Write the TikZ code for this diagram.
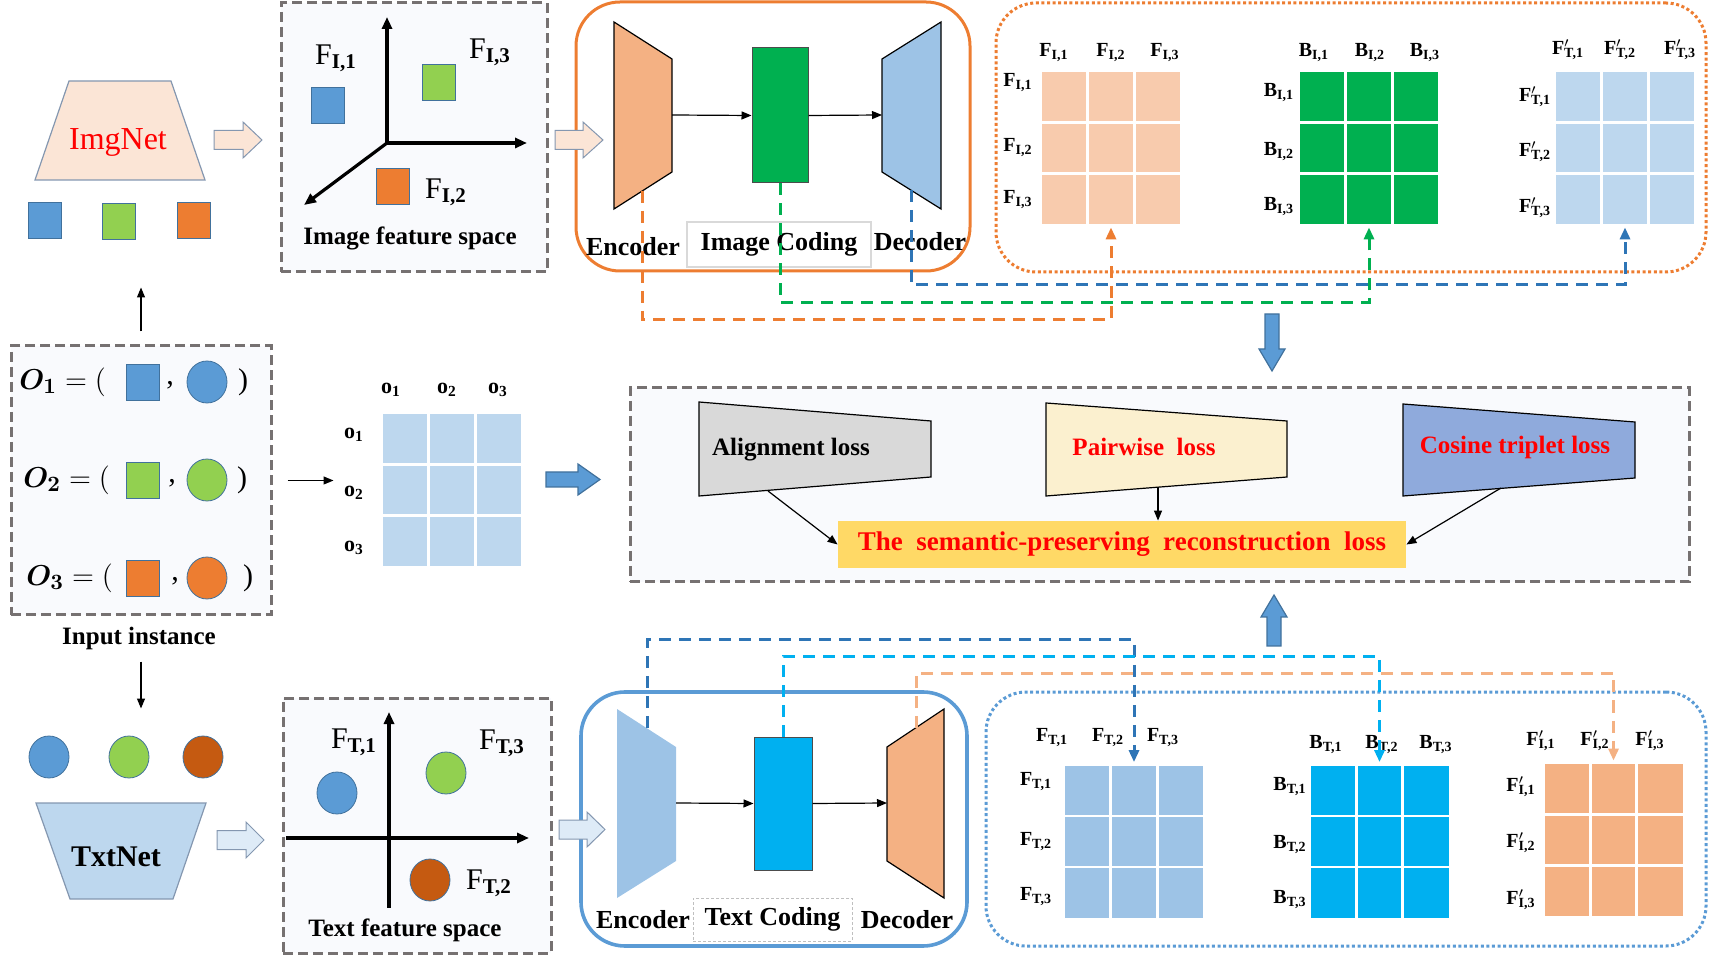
\documentclass[tikz,border=0pt]{standalone}
\usepackage{fontspec}
\setmainfont{Liberation Serif}
\usepackage{amsmath,bm}
\usetikzlibrary{calc,arrows.meta,shapes.geometric}
\definecolor{cblue}{HTML}{5B9BD5}
\definecolor{cgreen}{HTML}{92D050}
\definecolor{corange}{HTML}{ED7D31}
\definecolor{cbrown}{HTML}{C55A11}
\definecolor{cpeach}{HTML}{FBE5D6}
\definecolor{cpeachmat}{HTML}{F8CBAD}
\definecolor{cpeachdk}{HTML}{F4B183}
\definecolor{cpale}{HTML}{BDD7EE}
\definecolor{cpalemid}{HTML}{9DC3E6}
\definecolor{cpalelt}{HTML}{DEEBF7}
\definecolor{ccode}{HTML}{00B050}
\definecolor{ccyan}{HTML}{00B0F0}
\definecolor{cdkblue}{HTML}{2E75B6}
\definecolor{cgray}{HTML}{767171}
\definecolor{cfill}{HTML}{F9FAFD}
\definecolor{calign}{HTML}{D9D9D9}
\definecolor{cpair}{HTML}{FBF0CF}
\definecolor{ccos}{HTML}{8FAADC}
\definecolor{cyellow}{HTML}{FFD966}
\definecolor{cedge}{HTML}{41719C}
\definecolor{carrowedge}{HTML}{8497B0}
\newcommand{\cellsplit}[1]{%
  \foreach \k in {1,2}{%
    \draw[white, line width=1.4pt] ($(#1.north west)!\k/3!(#1.north east)$) -- ($(#1.south west)!\k/3!(#1.south east)$);
    \draw[white, line width=1.4pt] ($(#1.north west)!\k/3!(#1.south west)$) -- ($(#1.north east)!\k/3!(#1.south east)$);
  }}

\begin{document}
\begin{tikzpicture}[x=0.5pt, y=-0.5pt,
  every node/.style={inner sep=0pt},
  gbox/.style={draw=cgray, fill=cfill, line width=1.5pt, dash pattern=on 5pt off 2.5pt},
  dbox/.style={line width=1.5pt, dash pattern=on 1.5pt off 1.3pt, rounded corners=20pt},
  sq/.style={draw=cedge, line width=0.4pt, minimum width=16.5pt, minimum height=18pt},
  blob/.style={ellipse, draw=cedge, line width=0.4pt, minimum width=20pt, minimum height=21pt},
  hollow/.style={draw=carrowedge, line width=0.5pt},
  solidarr/.style={fill=cblue, draw=cedge, line width=0.6pt},
  tip/.style={line width=0.6pt, -{Triangle[length=5pt,width=4pt]}},
  axisarr/.style={line width=1.6pt, -{Triangle[length=6pt,width=5pt]}},
  link/.style={line width=1.5pt, dash pattern=on 6pt off 4pt, -{Triangle[length=6pt,width=5pt]}, shorten >=1.5pt},
  big/.style={font=\fontsize{15}{17}\selectfont},
  lbl/.style={font=\fontsize{13}{15}\selectfont\bfseries},
  mlab/.style={font=\fontsize{10}{12}\selectfont\bfseries},
  mat/.style={minimum width=69pt, minimum height=76pt},
  ]
\useasboundingbox (0,0) rectangle (1712,961);

% networks and inputs
\draw[fill=cpeach, draw=carrowedge, line width=0.6pt] (69,81) -- (171,81) -- (205,180) -- (35,180) -- cycle;
\node[font=\fontsize{16}{18}\selectfont, text=red] (imgnet) at (118,142) {ImgNet};
\node[sq, fill=cblue] (isq1) at (44.5,220.5) {};
\node[sq, fill=cgreen] (isq2) at (119,221.5) {};
\node[sq, fill=corange] (isq3) at (194,220) {};

\node[gbox, minimum width=130pt, minimum height=134.5pt] (inbox) at (141,480.5) {};
\foreach \i/\y/\xo/\xc/\xp/\col in {1/382/19/170/243/cblue, 2/480/23/172/242/cgreen, 3/578/26/175/248/corange}{
  \node[big, anchor=west] (oeq\i) at (\xo,\y) {$\bm{O}_{\bm{\i}} = ($};
  \node[sq, fill=\col] (osq\i) at (143,\y) {};
  \node[big] (ocm\i) at (\xc,\y+3) {,};
  \node[blob, fill=\col] (ocr\i) at (207,\y) {};
  \node[big] (ocl\i) at (\xp,\y) {)};
}
\node[lbl, font=\fontsize{12.5}{14}\selectfont\bfseries] (tin) at (139,638) {Input instance};
\draw[tip] ([yshift=6.5pt]inbox.north) -- ++(0,-44);
\draw[tip] ([yshift=-22.5pt]inbox.south) -- ++(0,47);

\node[blob, fill=cblue] (tc1) at (49,757) {};
\node[blob, fill=cgreen] (tc2) at (129,757) {};
\node[blob, fill=cbrown] (tc3) at (203,757) {};
\draw[fill=cpale, draw=carrowedge, line width=0.6pt] (36,803) -- (206,803) -- (173,899) -- (70,899) -- cycle;
\node[font=\fontsize{15}{17}\selectfont\bfseries] (txtnet) at (116,857) {TxtNet};

% hollow arrows
\foreach \xa/\xh/\xb/\ym/\col in {214/243/262/140/cpeach, 217/246/264/840/cpalelt}
  \draw[hollow, fill=\col] (\xa,\ym-9.5) -- (\xh,\ym-9.5) -- (\xh,\ym-18) -- (\xb,\ym) -- (\xh,\ym+18) -- (\xh,\ym+9.5) -- (\xa,\ym+9.5) -- cycle;

% feature spaces
\node[gbox, minimum width=133pt, minimum height=134.5pt] (fspI) at (414,137.5) {};
\coordinate (oI) at (387,143);
\draw[axisarr] (oI) -- (387,17);
\draw[axisarr] (oI) -- (527,143);
\draw[axisarr] (oI) -- (304,205);
\node[sq, fill=cblue] (fI1) at (328,105) {};
\node[sq, fill=cgreen] (fI3) at (439,82.5) {};
\node[sq, fill=corange] (fI2) at (393,186.5) {};
\node[big] (lfI1) at (336,58) {F\textsubscript{\textbf{I,1}}};
\node[big] (lfI3) at (490,52) {F\textsubscript{\textbf{I,3}}};
\node[big] (lfI2) at (446,192) {F\textsubscript{\textbf{I,2}}};
\node[lbl, font=\fontsize{12.5}{14}\selectfont\bfseries] (tfI) at (410,238) {Image feature space};

\node[gbox, minimum width=134pt, minimum height=127.5pt] (fspT) at (417,825.5) {};
\coordinate (oT) at (389,838);
\draw[line width=1.6pt] (oT) -- (389,908);
\draw[axisarr] (oT) -- (389,712);
\draw[line width=1.6pt] (oT) -- (286,838);
\draw[axisarr] (oT) -- (529,838);
\node[blob, fill=cblue] (fT1) at (337,793) {};
\node[blob, fill=cgreen] (fT3) at (446,773) {};
\node[blob, fill=cbrown] (fT2) at (430,880) {};
\node[big] (lfT1) at (354,742) {F\textsubscript{\textbf{T,1}}};
\node[big] (lfT3) at (502,743) {F\textsubscript{\textbf{T,3}}};
\node[big] (lfT2) at (489,883) {F\textsubscript{\textbf{T,2}}};
\node[lbl, font=\fontsize{12.5}{14}\selectfont\bfseries] (tfT) at (405,930) {Text feature space};

% image autoencoder
\node[draw=corange, line width=1.5pt, rounded corners=22pt, minimum width=197pt, minimum height=134.5pt] (aeI) at (773,136.5) {};
\draw[fill=cpeachdk, line width=0.6pt] (614,22) -- (672,59) -- (672,172) -- (614,209) -- cycle;
\node[fill=ccode, draw=black!70, line width=0.5pt, minimum width=28pt, minimum height=67.5pt] (codI) at (780,115.5) {};
\draw[fill=cpalemid, line width=0.6pt] (882,59) -- (941,22) -- (941,209) -- (882,172) -- cycle;
\coordinate (encIR) at (672,115);
\coordinate (decIL) at (882,115);
\coordinate (encIB) at (642,191);
\coordinate (decIB) at (911,190);
\draw[tip] (encIR) -- (codI.west);
\draw[tip] (codI.east) -- (decIL);
\node[lbl] (tencI) at (633,247) {Encoder};
\node[lbl, draw=black!15, fill=white, line width=0.6pt, minimum width=92pt, minimum height=22.5pt] (tcodI) at (779,244.5) {Image Coding};
\node[lbl] (tdecI) at (920,242) {Decoder};
\draw[hollow, fill=cpeach] (555,130.5) -- (583,130.5) -- (583,122) -- (603,140) -- (583,158) -- (583,149.5) -- (555,149.5) -- cycle;

% text autoencoder
\node[draw=cblue, line width=1.8pt, rounded corners=22pt, minimum width=193pt, minimum height=127pt] (aeT) at (774,819) {};
\fill[cpalemid] (617,709) -- (676,747) -- (676,861) -- (617,898) -- cycle;
\node[fill=ccyan, draw=black!70, line width=0.5pt, minimum width=29pt, minimum height=66.5pt] (codT) at (783,803.5) {};
\draw[fill=cpeachdk, line width=0.6pt] (887,747) -- (944,709) -- (944,898) -- (887,861) -- cycle;
\coordinate (encTR) at (676,803);
\coordinate (decTL) at (887,803);
\coordinate (encTT) at (647,728);
\coordinate (decTT) at (916,728);
\draw[tip] (encTR) -- (codT.west);
\draw[tip] (codT.east) -- (decTL);
\node[lbl] (tencT) at (643,920) {Encoder};
\node[lbl, draw=black!25, dash pattern=on 1.5pt off 1pt, line width=0.5pt, minimum width=79.5pt, minimum height=21.5pt] (tcodT) at (772.5,919.5) {Text Coding};
\node[lbl] (tdecT) at (907,920) {Decoder};
\draw[hollow, fill=cpalelt] (559,820) -- (587,820) -- (587,812) -- (605,829.5) -- (587,847) -- (587,839) -- (559,839) -- cycle;

% similarity matrices, image side
\node[draw=corange, dbox, minimum width=355pt, minimum height=134.5pt] (simI) at (1351,137.5) {};
\node[mat, fill=cpeachmat] (mFI) at (1111,148) {};
\node[mat, fill=ccode] (mBI) at (1369,148) {};
\node[mat, fill=cpale] (mFT) at (1625,148) {};
\cellsplit{mFI}
\cellsplit{mBI}
\cellsplit{mFT}
\foreach \i/\x in {1/1054,2/1111,3/1165} \node[mlab] (cFI\i) at (\x,53) {F\textsubscript{I,\i}};
\foreach \i/\y in {1/83,2/148,3/200} \node[mlab] (rFI\i) at (1018,\y) {F\textsubscript{I,\i}};
\foreach \i/\x in {1/1314,2/1370,3/1425} \node[mlab] (cBI\i) at (\x,53) {B\textsubscript{I,\i}};
\foreach \i/\y in {1/93,2/152,3/207} \node[mlab] (rBI\i) at (1279,\y) {B\textsubscript{I,\i}};
\foreach \i/\x in {1/1568,2/1620,3/1680} \node[mlab] (cFT\i) at (\x,50) {F\rlap{$'$}\textsubscript{T,\i}};
\foreach \i/\y in {1/97,2/152,3/208} \node[mlab] (rFT\i) at (1535,\y) {F\rlap{$'$}\textsubscript{T,\i}};

% similarity matrices, text side
\node[draw=cblue, dbox, minimum width=360pt, minimum height=127pt] (simT) at (1346,819) {};
\node[mat, fill=cpalemid] (mFTb) at (1134,841.5) {};
\node[mat, fill=ccyan] (mBT) at (1379.5,841.5) {};
\node[mat, fill=cpeachdk] (mFIb) at (1613.5,840) {};
\cellsplit{mFTb}
\cellsplit{mBT}
\cellsplit{mFIb}
\foreach \i/\x in {1/1052,2/1108,3/1163} \node[mlab] (cFTb\i) at (\x,738) {F\textsubscript{T,\i}};
\foreach \i/\y in {1/782,2/842,3/897} \node[mlab] (rFTb\i) at (1036,\y) {F\textsubscript{T,\i}};
\foreach \i/\x in {1/1326,2/1382,3/1436} \node[mlab] (cBT\i) at (\x,745) {B\textsubscript{T,\i}};
\foreach \i/\y in {1/787,2/845,3/900} \node[mlab] (rBT\i) at (1290,\y) {B\textsubscript{T,\i}};
\foreach \i/\x in {1/1541,2/1595,3/1650} \node[mlab] (cFIb\i) at (\x,741) {F\rlap{$'$}\textsubscript{I,\i}};
\foreach \i/\y in {1/787,2/843,3/900} \node[mlab] (rFIb\i) at (1521,\y) {F\rlap{$'$}\textsubscript{I,\i}};

% input similarity
\draw[tip] ([xshift=7.5pt]inbox.east) -- ++(46,0);
\node[mat, fill=cpale] (mO) at (452,490) {};
\cellsplit{mO}
\foreach \i/\x in {1/391,2/447,3/498} \node[mlab, font=\fontsize{11}{13}\selectfont\bfseries] (cO\i) at (\x,390) {o\textsubscript{\i}};
\foreach \i/\y in {1/435,2/493,3/548} \node[mlab, font=\fontsize{11}{13}\selectfont\bfseries] (rO\i) at (354,\y) {o\textsubscript{\i}};

% loss part
\node[gbox, minimum width=529.5pt, minimum height=97pt] (lossbox) at (1159.5,485) {};
\draw[fill=calign, line width=0.6pt] (699,402) -- (931,421) -- (931,477) -- (699,496) -- cycle;
\draw[fill=cpair, line width=0.6pt] (1046,403) -- (1287,421) -- (1287,477) -- (1046,496) -- cycle;
\draw[fill=ccos, line width=0.6pt] (1403,404) -- (1635,422) -- (1635,478) -- (1403,496) -- cycle;
\node[font=\fontsize{12.5}{14}\selectfont\bfseries] (talign) at (791,450) {Alignment loss};
\node[font=\fontsize{12.5}{14}\selectfont\bfseries, text=red] (tpair) at (1144,447) {Pairwise\ \ loss};
\node[font=\fontsize{12.5}{14}\selectfont\bfseries, text=red] (tcos) at (1515,447) {Cosine triplet loss};
\node[fill=cyellow, minimum width=284pt, minimum height=23.5pt, font=\fontsize{13.5}{15}\selectfont\bfseries, text=red] (sem) at (1122,544.5) {The\ \ semantic-preserving\ \ reconstruction\ \ loss};
\coordinate (alB) at (768,491);
\coordinate (paB) at (1158,487);
\coordinate (coB) at (1501,488);
\draw[tip] (alB) -- (sem.west);
\draw[tip] (paB) -- (paB |- sem.north);
\draw[tip] (coB) -- (sem.east);

% block arrows
\draw[solidarr] (546,472) -- (578,472) -- (578,464) -- (600,479.5) -- (578,495) -- (578,487) -- (546,487) -- cycle;
\draw[solidarr] (1265,314) -- (1279,314) -- (1279,349) -- (1285,349) -- (1272,371) -- (1259,349) -- (1265,349) -- cycle;
\draw[solidarr] (1267,646) -- (1281,646) -- (1281,617) -- (1287,617) -- (1274,595) -- (1261,617) -- (1267,617) -- cycle;

% dashed links to the matrices
\draw[link, corange] (encIB) -- ++(0,129) -| (mFI.south);
\draw[link, ccode] (codI.south) -- ++(0,119) -| (mBI.south);
\draw[link, cdkblue] (decIB) -- ++(0,95) -| (mFT.south);
\draw[link, cdkblue] (encTT) -- ++(0,-88) -| (mFTb.north);
\draw[link, ccyan] (codT.north) -- ++(0,-80) -| (mBT.north);
\draw[link, cpeachdk] (decTT) -- ++(0,-55) -| (mFIb.north);
\end{tikzpicture}
\end{document}
